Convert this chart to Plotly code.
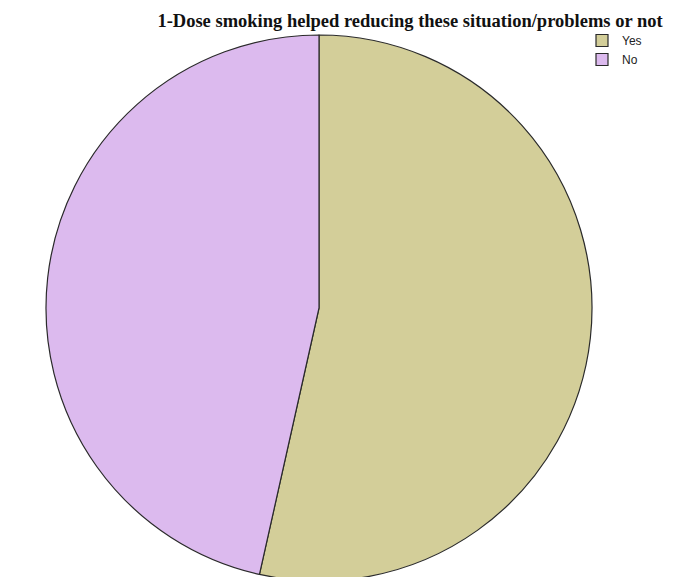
import plotly.graph_objects as go

# Share of respondents (%)
categories = ["Yes", "No"]
values = [53.5, 46.5]
colors = ["#D3CE99", "#DCBAEE"]

W, H = 680, 590

fig = go.Figure(
    go.Pie(
        labels=categories,
        values=values,
        sort=False,
        direction="clockwise",
        rotation=0,
        textinfo="none",
        hoverinfo="label+percent",
        marker=dict(colors=colors, line=dict(color="#2a2a2a", width=1.2)),
        domain=dict(x=[46 / W, 592 / W], y=[(H - 581) / H, (H - 35) / H]),
    )
)

fig.update_layout(
    width=W,
    height=H,
    margin=dict(l=0, r=0, t=0, b=0),
    paper_bgcolor="white",
    plot_bgcolor="white",
    title=dict(
        text="<b>1-Dose smoking helped reducing these situation/problems or not</b>",
        font=dict(family="Liberation Serif, Times New Roman, serif", size=18.5, color="#111"),
        x=410 / W,
        xanchor="center",
        y=1 - 21 / H,
        yanchor="middle",
    ),
    showlegend=True,
    legend=dict(
        x=582 / W,
        xanchor="left",
        y=1 - 26 / H,
        yanchor="top",
        font=dict(family="Liberation Sans, Arial, sans-serif", size=12, color="#222"),
        bgcolor="rgba(0,0,0,0)",
        itemwidth=30,
        tracegroupgap=0,
    ),
)

fig.write_html("out.html")
